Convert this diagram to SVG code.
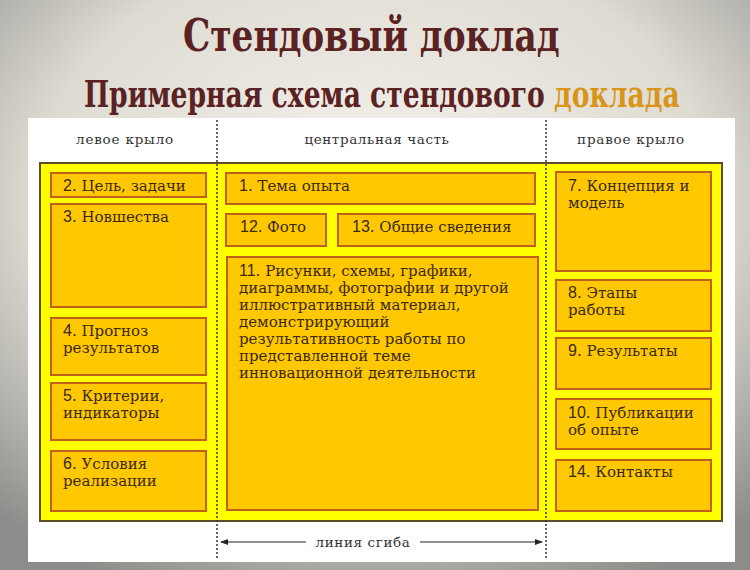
<svg xmlns="http://www.w3.org/2000/svg" width="750" height="570" viewBox="0 0 750 570">
<defs>
<radialGradient id="bg" cx="0.5" cy="0.35" r="0.75">
<stop offset="0" stop-color="#f6f4ee"/>
<stop offset="0.6" stop-color="#dedbd2"/>
<stop offset="1" stop-color="#8c8c8a"/>
</radialGradient>
<marker id="ah" viewBox="0 0 10 10" refX="9" refY="5" markerWidth="8" markerHeight="8" orient="auto-start-reverse" markerUnits="userSpaceOnUse">
<path d="M0,1 L10,5 L0,9 Z" fill="#222"/>
</marker>
<style>
.box{fill:#ffc800;stroke:#c0601a;stroke-width:2}
.t{font-family:"DejaVu Serif","Liberation Serif",serif;font-size:15px;fill:#3a2810}
.n{font-family:"Liberation Sans",Arial,sans-serif;font-size:16px}
.h{font-family:"DejaVu Serif","Liberation Serif",serif;font-size:13.5px;fill:#333;text-anchor:middle}
.fold{stroke:#333;stroke-width:1.5;stroke-dasharray:2 2;fill:none}
.ttl{font-family:"DejaVu Serif",serif;font-weight:700;fill:#5a2222}
</style>
</defs>
<rect x="0" y="0" width="750" height="570" fill="url(#bg)"/>
<text class="ttl" transform="translate(183,51) scale(0.78,1)" x="0" y="0" font-size="44">Стендовый доклад</text>
<text class="ttl" transform="translate(84,107) scale(0.7,1)" x="0" y="0" font-size="38">Примерная схема стендового <tspan style="fill:#d9951a">доклада</tspan></text>
<rect x="28" y="118" width="707" height="444" fill="#ffffff"/>
<g id="headers">
<text class="h" x="125" y="144" letter-spacing="0.8">левое крыло</text>
<text class="h" x="377" y="144" letter-spacing="0.6">центральная часть</text>
<text class="h" x="631" y="144" letter-spacing="0.8">правое крыло</text>
</g>
<rect id="stand" x="40" y="163" width="682" height="358" fill="#ffff00" stroke="#5e4f28" stroke-width="2"/>
<g id="n2"><rect class="box" x="51" y="173" width="155" height="24"/><text class="t" x="63" y="191"><tspan class="n">2</tspan>. Цель, задачи</text></g>
<g id="n3"><rect class="box" x="51" y="204" width="155" height="103"/><text class="t" x="63" y="222"><tspan class="n">3</tspan>. Новшества</text></g>
<g id="n4"><rect class="box" x="51" y="318" width="155" height="57"/><text class="t" x="63" y="336"><tspan class="n">4</tspan>. Прогноз</text><text class="t" x="63" y="353">результатов</text></g>
<g id="n5"><rect class="box" x="51" y="383" width="155" height="57"/><text class="t" x="63" y="401"><tspan class="n">5</tspan>. Критерии,</text><text class="t" x="63" y="418">индикаторы</text></g>
<g id="n6"><rect class="box" x="51" y="451" width="155" height="60"/><text class="t" x="63" y="469"><tspan class="n">6</tspan>. Условия</text><text class="t" x="63" y="486">реализации</text></g>
<g id="n1"><rect class="box" x="226" y="173" width="309" height="31"/><text class="t" x="239" y="191"><tspan class="n">1</tspan>. Тема опыта</text></g>
<g id="n12"><rect class="box" x="226" y="214" width="100" height="32"/><text class="t" x="240" y="232"><tspan class="n">12</tspan>. Фото</text></g>
<g id="n13"><rect class="box" x="338" y="214" width="197" height="32"/><text class="t" x="352" y="232"><tspan class="n">13</tspan>. Общие сведения</text></g>
<g id="n11"><rect class="box" x="227" y="257" width="311" height="253"/>
<text class="t" x="239" y="276"><tspan class="n">11</tspan>. Рисунки, схемы, графики,</text>
<text class="t" x="239" y="293">диаграммы, фотографии и другой</text>
<text class="t" x="239" y="310">иллюстративный материал,</text>
<text class="t" x="239" y="327">демонстрирующий</text>
<text class="t" x="239" y="344">результативность работы по</text>
<text class="t" x="239" y="361">представленной теме</text>
<text class="t" x="239" y="378">инновационной деятельности</text>
</g>
<g id="n7"><rect class="box" x="556" y="172" width="155" height="99"/><text class="t" x="568" y="191"><tspan class="n">7</tspan>. Концепция и</text><text class="t" x="568" y="208">модель</text></g>
<g id="n8"><rect class="box" x="556" y="280" width="155" height="51"/><text class="t" x="568" y="298"><tspan class="n">8</tspan>. Этапы</text><text class="t" x="568" y="315">работы</text></g>
<g id="n9"><rect class="box" x="556" y="338" width="155" height="51"/><text class="t" x="568" y="356"><tspan class="n">9</tspan>. Результаты</text></g>
<g id="n10"><rect class="box" x="556" y="399" width="155" height="50"/><text class="t" x="568" y="418"><tspan class="n">10</tspan>. Публикации</text><text class="t" x="568" y="435">об опыте</text></g>
<g id="n14"><rect class="box" x="556" y="460" width="155" height="51"/><text class="t" x="568" y="477"><tspan class="n">14</tspan>. Контакты</text></g>
<g id="connectors">
<line class="fold" x1="217" y1="120" x2="217" y2="558"/>
<line class="fold" x1="546" y1="120" x2="546" y2="558"/>
<line x1="306" y1="542" x2="221" y2="542" stroke="#222" stroke-width="1.2" marker-end="url(#ah)"/>
<line x1="420" y1="542" x2="542" y2="542" stroke="#222" stroke-width="1.2" marker-end="url(#ah)"/>
<text class="h" x="363" y="547" letter-spacing="0.6">линия сгиба</text>
</g>
</svg>
